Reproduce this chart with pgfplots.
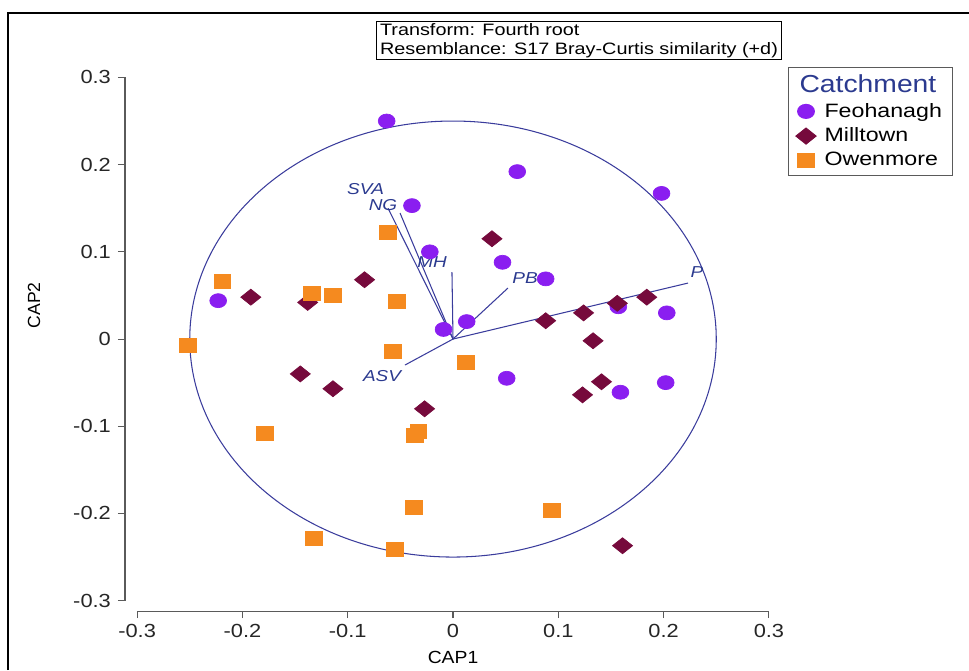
\documentclass[border=0pt]{standalone}
\usepackage{fontspec}
\setmainfont{Liberation Sans}
\usepackage{graphicx}
\usepackage{pgfplots}
\pgfplotsset{compat=1.18}
\definecolor{feo}{HTML}{8A1EF0}
\definecolor{mil}{HTML}{760A3C}
\definecolor{owe}{HTML}{F58A1F}
\definecolor{vec}{HTML}{3A3C9C}
\definecolor{lab}{HTML}{2B3A8F}
\definecolor{axg}{HTML}{5A5A5A}
\pgfplotsset{shortleg/.style={legend image code/.code={%
  \draw[mark repeat=2,mark phase=2,#1] plot coordinates {(0cm,0cm) (0.15cm,0cm) (0.3cm,0cm)};}}}

\begin{document}
\begin{tikzpicture}
\begin{axis}[
  x=21.06cm, y=17.44cm,
  xmin=-0.3115, xmax=0.31, ymin=-0.312, ymax=0.31,
  axis x line*=bottom, axis y line*=left,
  axis line style={draw=none},
  tick align=outside, major tick length=0.14cm,
  every tick/.style={axg, line width=0.6pt},
  xtick={-0.3,-0.2,-0.1,0,0.1,0.2,0.3},
  ytick={-0.3,-0.2,-0.1,0,0.1,0.2,0.3},
  /pgf/number format/assume math mode=true,
  tick label style={font=\fontsize{10.8}{12}\selectfont, text=black!85, xscale=1.15},
  xlabel={CAP1}, ylabel={CAP2},
  label style={font=\fontsize{10.8}{12}\selectfont, text=black!85},
  every axis x label/.style={at={(axis description cs:0.5012,-0.0847)}, anchor=center, xscale=1.1},
  every axis y label/.style={at={(axis description cs:-0.139,0.564)}, anchor=center, rotate=90},
  clip=false,
  legend style={at={(axis description cs:1.013,1.0031)}, anchor=north west,
    draw=axg, line width=0.6pt, fill=white, inner xsep=0.15cm, inner ysep=2pt,
    font=\fontsize{11}{12}\selectfont, row sep=0.02cm, column sep=-0.4cm, cells={anchor=west}},
  legend cell align=left,
]
% correlation circle and vectors
\draw[vec, line width=0.6pt] (axis cs:0,0) ellipse [x radius=0.25, y radius=0.25];
\addplot[vec, line width=0.6pt, forget plot] coordinates {(0,0) (0.2232,0.0642)};
\addplot[vec, line width=0.6pt, forget plot] coordinates {(0,0) (0.0522,0.0585)};
\addplot[vec, line width=0.6pt, forget plot] coordinates {(0,0) (-0.001,0.0768)};
\addplot[vec, line width=0.6pt, forget plot] coordinates {(0,0) (-0.0617,0.150)};
\addplot[vec, line width=0.6pt, forget plot] coordinates {(0,0) (-0.0503,0.1445)};
\addplot[vec, line width=0.6pt, forget plot] coordinates {(0,0) (-0.0456,-0.0298)};

\addlegendimage{empty legend}
\addlegendentry[font=\fontsize{14}{15}\selectfont, text=lab, xshift=-0.5cm]{\scalebox{1.15}[1]{Catchment}}

\addplot[only marks, mark=*, mark size=0.14cm, mark options={xscale=1.2, draw=feo, fill=feo}, shortleg] coordinates {
(-0.063,0.250) (0.061,0.192) (0.198,0.167) (-0.039,0.153) (-0.022,0.100)
(0.047,0.088) (0.088,0.069) (-0.223,0.044) (-0.009,0.011) (0.013,0.020)
(0.203,0.030) (0.051,-0.045) (0.202,-0.050) (0.159,-0.061) (0.157,0.037)};
\addlegendentry{\scalebox{1.2}[1]{Feohanagh}}

\addplot[only marks, mark=diamond*, mark size=0.16cm, mark options={xscale=1.67, draw=mil, fill=mil}, shortleg] coordinates {
(0.037,0.115) (-0.084,0.068) (-0.192,0.048) (-0.138,0.042) (0.088,0.021)
(0.124,0.030) (0.156,0.041) (0.184,0.048) (0.133,-0.002) (0.141,-0.049)
(0.123,-0.064) (-0.145,-0.040) (-0.114,-0.057) (-0.027,-0.080) (0.161,-0.237)};
\addlegendentry{\scalebox{1.2}[1]{Milltown}}

\addplot[only marks, mark=square*, mark size=0.14cm, mark options={xscale=1.2, draw=owe, fill=owe}, shortleg] coordinates {
(-0.062,0.122) (-0.219,0.066) (-0.134,0.052) (-0.114,0.050) (-0.053,0.043)
(-0.252,-0.007) (-0.057,-0.014) (0.012,-0.027) (-0.179,-0.108) (-0.036,-0.110)
(-0.033,-0.106) (-0.037,-0.193) (-0.132,-0.229) (-0.055,-0.241) (0.094,-0.196)};
\addlegendentry{\scalebox{1.2}[1]{Owenmore}}

% vector labels
\begin{scope}[every node/.style={font=\fontsize{9}{10}\selectfont\itshape, text=lab, xscale=1.2, inner sep=0pt}]
\node at (axis cs:-0.0830,0.1720) {SVA};
\node at (axis cs:-0.0665,0.1540) {NG};
\node at (axis cs:-0.0199,0.0883) {MH};
\node at (axis cs:0.0684,0.0700) {PB};
\node at (axis cs:0.2317,0.0768) {P};
\node at (axis cs:-0.0674,-0.0424) {ASV};
\end{scope}

% axis lines
\draw[axg, line width=0.6pt] (axis cs:-0.3,-0.312) -- (axis cs:0.3,-0.312);
\draw[axg, line width=0.6pt] (axis cs:-0.3115,-0.3) -- (axis cs:-0.3115,0.3);

% header box
\node[draw=black, line width=0.6pt, anchor=north west, inner xsep=0.07cm, inner ysep=0.04cm,
  align=left, font=\fontsize{9.4}{10.8}\selectfont] at (axis cs:-0.0731,0.3647)
  {\scalebox{1.2}[1]{Transform: Fourth root}\\\scalebox{1.2}[1]{Resemblance: S17 Bray-Curtis similarity (+d)}};

% frame
\draw[black, line width=0.04cm] (axis cs:-0.4226,-0.3796) -- (axis cs:-0.4226,0.3739) -- (axis cs:0.4900,0.3739);

\coordinate (tl) at (axis cs:-0.4302,0.3888);
\coordinate (br) at (axis cs:0.4900,-0.3796);
\end{axis}
\pgfresetboundingbox
\path[use as bounding box] (tl) rectangle (br);
\end{tikzpicture}
\end{document}
